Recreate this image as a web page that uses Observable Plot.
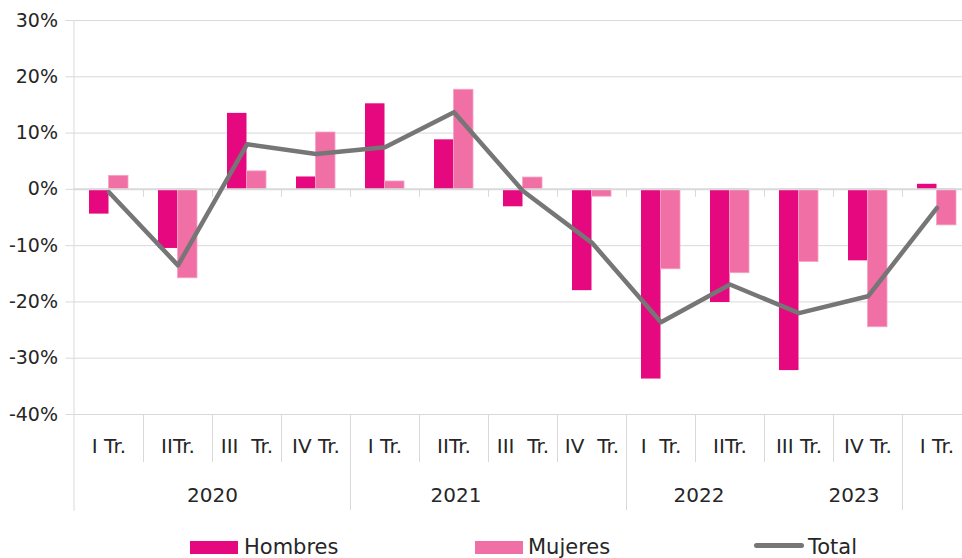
<!DOCTYPE html>
<html>
<head>
<meta charset="utf-8">
<script src="https://cdn.jsdelivr.net/npm/d3@7"></script>
<script src="https://cdn.jsdelivr.net/npm/@observablehq/plot@0.6"></script>
<style>
  html, body { margin: 0; padding: 0; background: white; overflow: hidden; }
  #wrap { position: relative; width: 962px; }
  #legend { position: relative; width: 962px; height: 30px; font-family: "DejaVu Sans", sans-serif; font-size: 21px; color: #262626; }
  #legend .sw { position: absolute; }
  #legend .lb { position: absolute; line-height: 21px; white-space: nowrap; }
</style>
</head>
<body>
<div id="wrap"></div>
<script>
// ---- data ----
const categories = ["2020-I","2020-II","2020-III","2020-IV","2021-I","2021-II","2021-III","2021-IV","2022-I","2022-II","2022-III","2022-IV","2023-I"];
const quarterLabels = ["I Tr.","IITr.","III  Tr.","IV Tr.","I Tr.","IITr.","III  Tr.","IV  Tr.","I  Tr.","IITr.","III Tr.","IV Tr.","I Tr."];
const hombres = [-4.4, -10.5, 13.5, 2.2, 15.2, 8.8, -3.1, -18.0, -33.7, -20.1, -32.2, -12.7, 0.9];
const mujeres = [2.4, -15.8, 3.2, 10.1, 1.4, 17.7, 2.1, -1.3, -14.2, -14.9, -12.9, -24.5, -6.4];
const total = [-0.5, -13.5, 8.0, 6.3, 7.5, 13.7, -0.3, -9.5, -23.6, -16.9, -22.0, -19.0, -3.3];
const yTicks = [-40, -30, -20, -10, 0, 10, 20, 30];
const yearLabels = ["2020", "2021", "2022", "2023"];
const yearAnchors = ["2020-III", "2021-II", "2022-II", "2022-IV"];
const yearStarts = ["2021-I", "2022-I", "2023-I"];
const seriesNames = ["Hombres", "Mujeres", "Total"];

// ---- build table ----
const data = categories.map((c, i) => ({cat: c, q: quarterLabels[i], h: hombres[i], m: mujeres[i], t: total[i]}));
const innerBounds = categories.slice(1);
const quarterBounds = innerBounds.filter(c => !yearStarts.includes(c));
const yearDx = [-34.5, 2, -31, -14];

const colH = "#E5087E", colM = "#F06FA5", colT = "#767676", grid = "#d9d9d9", ink = "#262626";
const font = "DejaVu Sans, sans-serif";

const chart = Plot.plot({
  width: 962,
  height: 536,
  marginLeft: 73.5,
  marginRight: 0,
  marginTop: 20,
  marginBottom: 26,
  style: {fontFamily: font, fontSize: "19px", color: ink, background: "white", overflow: "visible"},
  x: {type: "band", domain: categories, range: [73.5, 970.5], padding: 0, axis: null},
  y: {domain: [-40, 30], range: [414, 20], axis: null},
  marks: [
    Plot.ruleY(yTicks.filter(d => d !== 0), {stroke: grid, strokeWidth: 1}),
    Plot.barY(data, {x: "cat", y: "h", fill: colH, insetLeft: 15, insetRight: 34.5}),
    Plot.barY(data, {x: "cat", y: "m", fill: colM, stroke: "#F5A3C6", strokeWidth: 0.8, insetLeft: 34.5, insetRight: 15}),
    Plot.ruleY([0], {stroke: grid, strokeWidth: 2}),
    Plot.ruleX(innerBounds, {x: d => d, y1: 0, y2: 0, dx: -34.5, insetBottom: -8, stroke: grid, strokeWidth: 1}),
    Plot.line(data, {x: "cat", y: "t", stroke: colT, strokeWidth: 4.5, strokeLinejoin: "round", strokeLinecap: "round"}),
    Plot.axisY(yTicks, {tickSize: 8, tickPadding: 8, stroke: grid, fill: ink, fontSize: 19, tickFormat: d => d + "%"}),
    Plot.frame({anchor: "left", stroke: grid, strokeWidth: 1}),
    Plot.ruleX(quarterBounds, {x: d => d, y1: -40, y2: -40, dx: -34.5, insetBottom: -48, stroke: grid, strokeWidth: 1}),
    Plot.ruleX(yearStarts, {x: d => d, y1: -40, y2: -40, dx: -34.5, insetBottom: -96, stroke: grid, strokeWidth: 1}),
    Plot.text(data, {x: "cat", y: -40, dy: 32, text: "q", fill: ink, fontSize: 20}),
    ...yearLabels.map((yl, i) => Plot.text([yl], {x: () => yearAnchors[i], y: -40, dy: 81, text: d => d, fill: ink, fontSize: 20, dx: yearDx[i]}))
  ]
});
document.getElementById("wrap").appendChild(chart);

// ---- legend ----
const legend = document.createElement("div");
legend.id = "legend";
const items = [
  {name: seriesNames[0], kind: "box", color: colH, sx: 190, tx: 244},
  {name: seriesNames[1], kind: "box", color: colM, sx: 475, tx: 528},
  {name: seriesNames[2], kind: "line", color: colT, sx: 754, tx: 808}
];
for (const it of items) {
  const sw = document.createElement("div");
  sw.className = "sw";
  sw.style.left = it.sx + "px";
  sw.style.background = it.color;
  if (it.kind === "box") { sw.style.top = "5px"; sw.style.width = "48px"; sw.style.height = "13px"; }
  else { sw.style.top = "7px"; sw.style.width = "50px"; sw.style.height = "5px"; sw.style.borderRadius = "2.5px"; }
  legend.appendChild(sw);
  const lb = document.createElement("div");
  lb.className = "lb";
  lb.style.left = it.tx + "px";
  lb.style.top = "1px";
  lb.textContent = it.name;
  legend.appendChild(lb);
}
document.getElementById("wrap").appendChild(legend);
</script>
</body>
</html>
